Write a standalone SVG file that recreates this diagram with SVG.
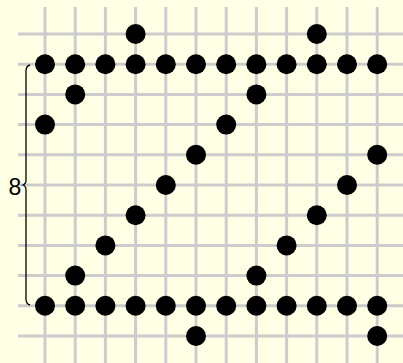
<svg xmlns="http://www.w3.org/2000/svg" width="403" height="363" viewBox="0 0 403 363">
<style>
.g{stroke:#cccccc;stroke-width:3;fill:none}
.d{fill:#000}
.b{stroke:#000;stroke-width:1.3;fill:none}
.t{font-family:"Liberation Sans",Arial,sans-serif;font-size:23px;fill:#000}
</style>
<rect width="403" height="363" fill="#ffffe6"/>
<g id="grid" class="g">
<path d="M45 7V363M75.2 7V363M105.4 7V363M135.6 7V363M165.8 7V363M196 7V363M226.2 7V363M256.4 7V363M286.6 7V363M316.8 7V363M347 7V363M377.2 7V363"/>
<path d="M18 34H403M18 64.2H403M18 94.4H403M18 124.6H403M18 154.8H403M18 185H403M18 215.2H403M18 245.4H403M18 275.6H403M18 305.8H403M18 336H403"/>
</g>
<g id="brace">
<path class="b" d="M30 65Q26 66 26 71V180Q26 184 23 185Q26 186 26 190V299Q26 304 30 305"/>
<text class="t" x="21.3" y="195" text-anchor="end">8</text>
</g>
<g id="dots" class="d">
<circle cx="135.6" cy="34" r="10"/><circle cx="316.8" cy="34" r="10"/>
<circle cx="45" cy="64.2" r="10"/><circle cx="75.2" cy="64.2" r="10"/><circle cx="105.4" cy="64.2" r="10"/><circle cx="135.6" cy="64.2" r="10"/><circle cx="165.8" cy="64.2" r="10"/><circle cx="196" cy="64.2" r="10"/><circle cx="226.2" cy="64.2" r="10"/><circle cx="256.4" cy="64.2" r="10"/><circle cx="286.6" cy="64.2" r="10"/><circle cx="316.8" cy="64.2" r="10"/><circle cx="347" cy="64.2" r="10"/><circle cx="377.2" cy="64.2" r="10"/>
<circle cx="75.2" cy="94.4" r="10"/><circle cx="256.4" cy="94.4" r="10"/>
<circle cx="45" cy="124.6" r="10"/><circle cx="226.2" cy="124.6" r="10"/>
<circle cx="196" cy="154.8" r="10"/><circle cx="377.2" cy="154.8" r="10"/>
<circle cx="165.8" cy="185" r="10"/><circle cx="347" cy="185" r="10"/>
<circle cx="135.6" cy="215.2" r="10"/><circle cx="316.8" cy="215.2" r="10"/>
<circle cx="105.4" cy="245.4" r="10"/><circle cx="286.6" cy="245.4" r="10"/>
<circle cx="75.2" cy="275.6" r="10"/><circle cx="256.4" cy="275.6" r="10"/>
<circle cx="45" cy="305.8" r="10"/><circle cx="75.2" cy="305.8" r="10"/><circle cx="105.4" cy="305.8" r="10"/><circle cx="135.6" cy="305.8" r="10"/><circle cx="165.8" cy="305.8" r="10"/><circle cx="196" cy="305.8" r="10"/><circle cx="226.2" cy="305.8" r="10"/><circle cx="256.4" cy="305.8" r="10"/><circle cx="286.6" cy="305.8" r="10"/><circle cx="316.8" cy="305.8" r="10"/><circle cx="347" cy="305.8" r="10"/><circle cx="377.2" cy="305.8" r="10"/>
<circle cx="196" cy="336" r="10"/><circle cx="377.2" cy="336" r="10"/>
</g>
</svg>
